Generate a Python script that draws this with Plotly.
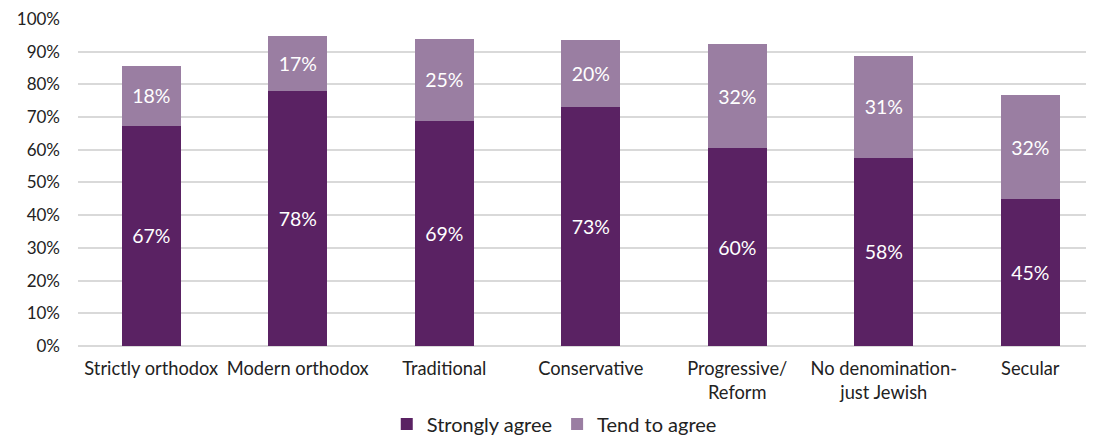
import plotly.graph_objects as go

categories = ["Strictly orthodox", "Modern orthodox", "Traditional", "Conservative",
              "Progressive/<br>Reform", "No denomination-<br>just Jewish", "Secular"]
strongly_agree = [67.3, 78.0, 68.8, 73.1, 60.4, 57.6, 45.0]
tend_to_agree = [18.3, 16.8, 25.1, 20.4, 31.9, 31.0, 31.7]
y_ticks = list(range(0, 101, 10))
y_tick_labels = [f"{v}%" for v in y_ticks]

FONT = "Lato, 'Open Sans', sans-serif"
dark = "#5A2263"
light = "#9A7EA2"

fig = go.Figure()
fig.add_trace(go.Bar(
    name="Strongly agree", x=categories, y=strongly_agree, width=0.4,
    marker=dict(color=dark, line=dict(width=0)),
    text=[f"{round(v)}%" for v in strongly_agree], textposition="inside",
    insidetextanchor="middle", textangle=0,
    textfont=dict(color="white", size=19.5, family=FONT),
))
fig.add_trace(go.Bar(
    name="Tend to agree", x=categories, y=tend_to_agree, width=0.4,
    marker=dict(color=light, line=dict(width=0)),
    text=[f"{round(v)}%" for v in tend_to_agree], textposition="inside",
    insidetextanchor="middle", textangle=0,
    textfont=dict(color="white", size=19.5, family=FONT),
))

fig.update_layout(
    barmode="stack",
    width=1086, height=428,
    margin=dict(l=70, r=0, t=10, b=90),
    paper_bgcolor="white", plot_bgcolor="white",
    font=dict(family=FONT, size=16, color="#222222"),
    showlegend=True,
    legend=dict(orientation="h", xref="container", x=0.503, xanchor="center",
                yref="container", y=0.028, yanchor="middle",
                font=dict(size=20, color="#222222"), traceorder="normal",
                itemwidth=30),
)
fig.update_xaxes(range=[-0.5, 6.435], showgrid=False, showline=False,
                 tickfont=dict(size=18.3), ticks="", ticklabelstandoff=10)
fig.update_yaxes(range=[0, 100.3], tickvals=y_ticks, ticktext=y_tick_labels,
                 showgrid=True, gridcolor="#D9D9D9", gridwidth=1.5,
                 zeroline=True, zerolinecolor="#D9D9D9", zerolinewidth=1.5,
                 showline=False, ticks="", tickfont=dict(size=17),
                 ticklabelstandoff=17, ticklabeloverflow="allow")

fig.write_html("out.html")
